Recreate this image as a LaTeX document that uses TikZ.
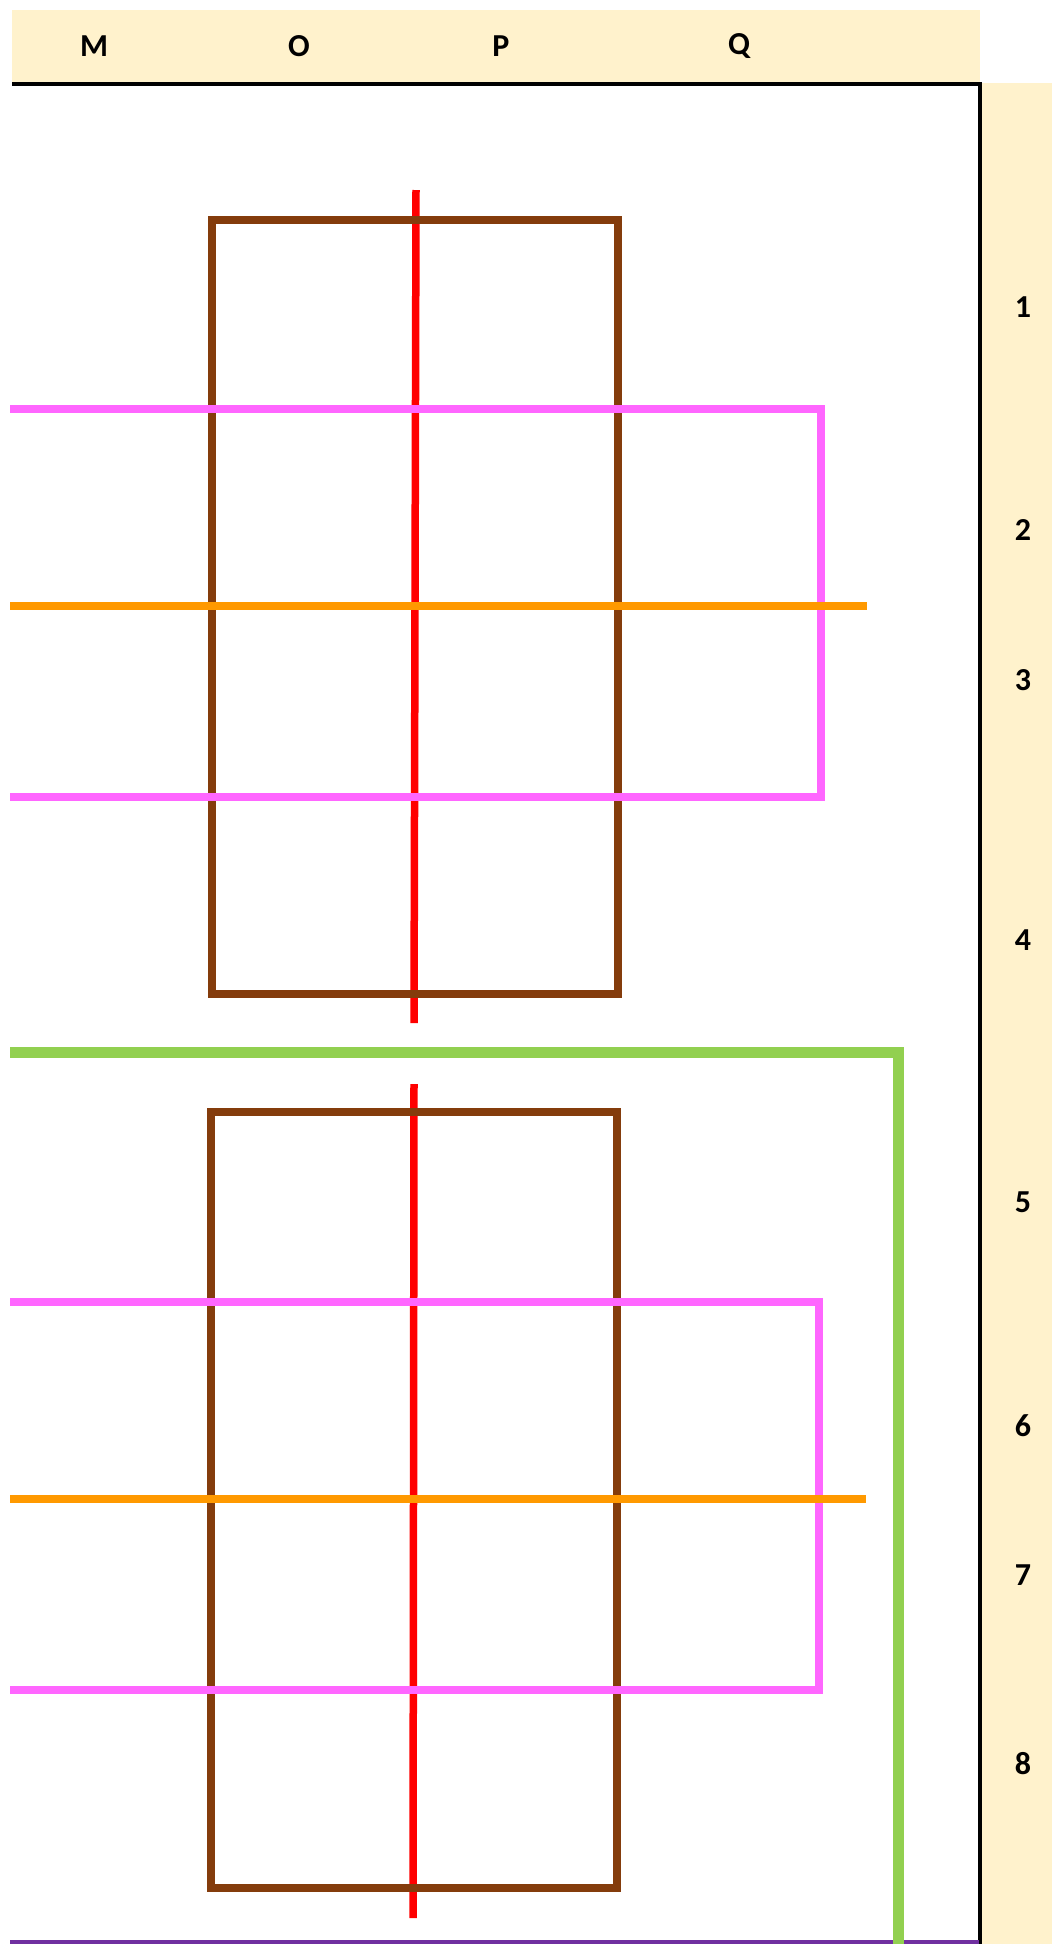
\documentclass[tikz,border=0pt]{standalone}
\usepackage{fontspec}
\setmainfont{Carlito}
\definecolor{band}{HTML}{FFF2CC}
\definecolor{brownc}{HTML}{843C0C}
\definecolor{redc}{HTML}{FF0000}
\definecolor{magc}{HTML}{FF66FF}
\definecolor{orac}{HTML}{FF9900}
\definecolor{grnc}{HTML}{92D050}
\definecolor{purc}{HTML}{7030A0}
\begin{document}
\begin{tikzpicture}[x=1pt,y=-1pt,
  lbl/.style={font=\fontsize{32}{34}\selectfont\bfseries, inner sep=0pt},
  frame/.style={line width=4pt, black},
  wall/.style={line width=7.5pt, brownc},
  axisline/.style={line width=7.5pt, redc},
  pinkline/.style={line width=7.5pt, magc},
  orline/.style={line width=7.5pt, orac},
  grline/.style={line width=11pt, grnc},
  puline/.style={line width=4pt, purc}]
\useasboundingbox (0,0) rectangle (1052,1944);
% bands
\fill[band] (12,10) rectangle (980,82);
\fill[band] (982,83) rectangle (1052,1944);
% header labels
\node[lbl] (hM) at (94,46) {M};
\node[lbl] (hO) at (299,46) {O};
\node[lbl] (hP) at (501,46) {P};
\node[lbl] (hQ) at (739,46) {Q};
% row labels
\node[lbl] (r1) at (1023,307) {1};
\node[lbl] (r2) at (1023,530) {2};
\node[lbl] (r3) at (1023,680) {3};
\node[lbl] (r4) at (1023,940) {4};
\node[lbl] (r5) at (1023,1202) {5};
\node[lbl] (r6) at (1023,1426) {6};
\node[lbl] (r7) at (1023,1575) {7};
\node[lbl] (r8) at (1023,1764) {8};
% frame lines
\draw[frame] (12,84) -- (980,84) -- (980,1944);
% red axes
\draw[axisline] (416,190) -- (414,1023);
\draw[axisline] (414,1084) -- (413,1918);
% brown rectangles
\draw[wall] (212,220) rectangle (618,994);
\draw[wall] (211,1112) rectangle (617,1888);
% magenta loops
\draw[pinkline] (10,409) -- (821,409) -- (821,797) -- (10,797);
\draw[pinkline] (10,1302) -- (819,1302) -- (819,1690) -- (10,1690);
% orange lines
\draw[orline] (10,606) -- (867,606);
\draw[orline] (10,1499) -- (866,1499);
% purple bottom
\draw[puline] (10,1942) -- (979,1942);
% green
\draw[grline] (10,1052) -- (898,1052) -- (898,1944);
\end{tikzpicture}
\end{document}
